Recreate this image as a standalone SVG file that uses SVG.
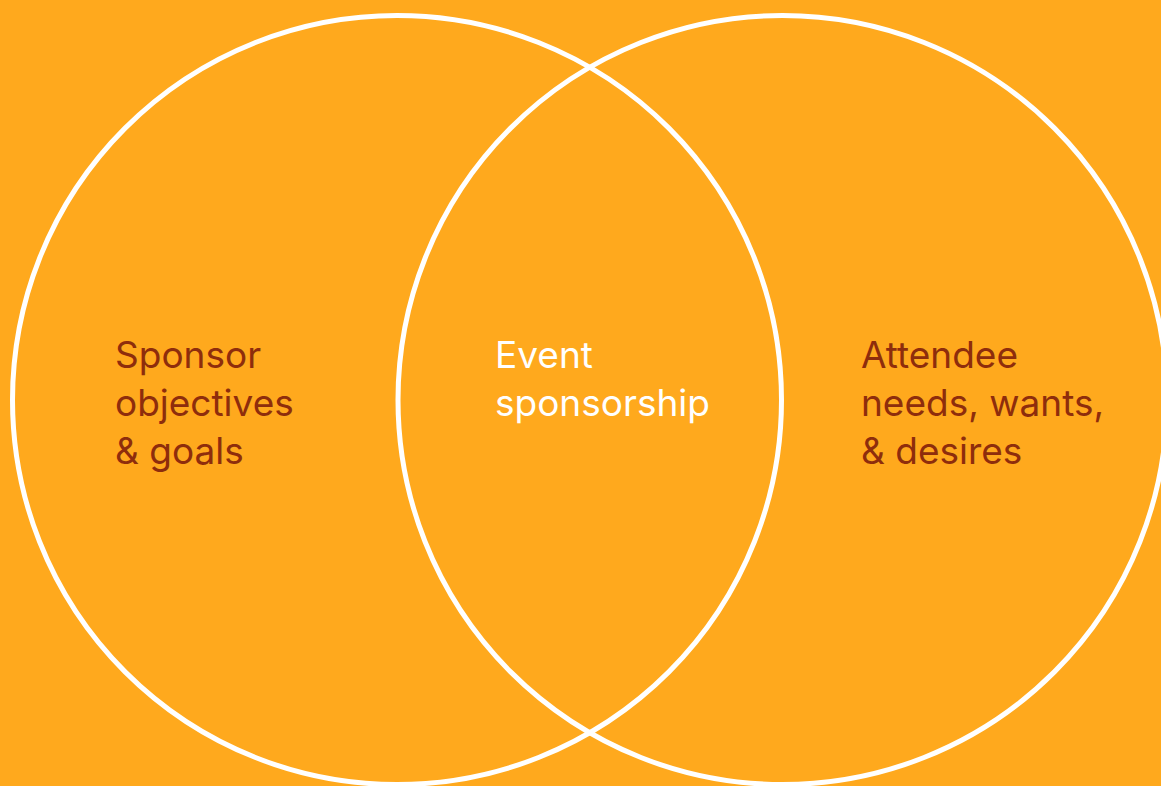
<svg xmlns="http://www.w3.org/2000/svg" width="1161" height="786" viewBox="0 0 1161 786">
<style>
.ring{fill:none;stroke:#FFFFFF;stroke-width:5}
.lbl{font-family:Inter,"Liberation Sans",sans-serif;font-size:37px}
.dark{fill:#8E2D0C}
.light{fill:#FFFFFF}
</style>
<rect x="0" y="0" width="1161" height="786" fill="#FFA91D"/>
<g id="sponsor">
<circle class="ring" cx="397" cy="400" r="384.5"/>
<text class="lbl dark" x="115"><tspan x="115" y="368">Sponsor</tspan><tspan x="115" y="416">objectives</tspan><tspan x="115" y="464">&amp; goals</tspan></text>
</g>
<g id="attendee">
<circle class="ring" cx="782.5" cy="400" r="384.5"/>
<text class="lbl dark" x="861"><tspan x="861" y="368">Attendee</tspan><tspan x="861" y="416">needs, wants,</tspan><tspan x="861" y="464">&amp; desires</tspan></text>
</g>
<g id="overlap">
<text class="lbl light" x="495"><tspan x="495" y="368">Event</tspan><tspan x="495" y="416">sponsorship</tspan></text>
</g>
<g id="connectors"></g>
</svg>
